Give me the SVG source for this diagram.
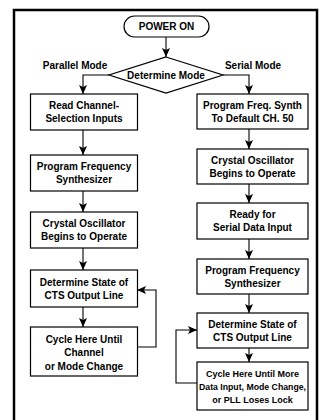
<svg xmlns="http://www.w3.org/2000/svg" width="324" height="420" viewBox="0 0 324 420">
<style>
.frame{fill:none;stroke:#000;stroke-width:2.5}
.box{fill:#fff;stroke:#000;stroke-width:1.2}
.t{font-family:"Liberation Sans",Arial,Helvetica,sans-serif;font-weight:bold;font-size:10px;fill:#000;text-anchor:middle}
.s{font-size:9px}
.c{fill:none;stroke:#000;stroke-width:1.1}
</style>
<defs>
<marker id="ah" viewBox="0 0 9 8" refX="9" refY="4" markerWidth="9" markerHeight="8" markerUnits="userSpaceOnUse" orient="auto">
<path d="M0,0 L9,4 L0,8 L2,4 Z" fill="#000"/>
</marker>
</defs>
<rect width="324" height="420" fill="#fff"/>
<rect class="frame" x="14" y="10" width="303" height="420"/>

<g id="connectors">
<path class="c" d="M166,37 V57" marker-end="url(#ah)"/>
<path class="c" d="M109,75 H83 V94" marker-end="url(#ah)"/>
<path class="c" d="M223,75 H249 V94" marker-end="url(#ah)"/>
<path class="c" d="M83,130 V155" marker-end="url(#ah)"/>
<path class="c" d="M83,191 V212" marker-end="url(#ah)"/>
<path class="c" d="M83,248 V270" marker-end="url(#ah)"/>
<path class="c" d="M83,307 V327" marker-end="url(#ah)"/>
<path class="c" d="M137,347 H156 V290 H137" marker-end="url(#ah)"/>
<path class="c" d="M249,129 V149" marker-end="url(#ah)"/>
<path class="c" d="M249,184 V203" marker-end="url(#ah)"/>
<path class="c" d="M249,239 V259" marker-end="url(#ah)"/>
<path class="c" d="M249,294 V313" marker-end="url(#ah)"/>
<path class="c" d="M249,348 V362" marker-end="url(#ah)"/>
<path class="c" d="M197,383 H176 V330 H197" marker-end="url(#ah)"/>
<text class="t" x="75" y="69">Parallel Mode</text>
<text class="t" x="253" y="69">Serial Mode</text>
</g>

<g id="power-on">
<rect class="box" x="124" y="16" width="85" height="21" rx="10.5"/>
<text class="t" x="166.5" y="30">POWER ON</text>
</g>

<g id="determine-mode">
<path class="box" d="M166,57 L223,75 L166,93 L109,75 Z"/>
<text class="t" x="166" y="78.5">Determine Mode</text>
</g>

<g id="p1">
<rect class="box" x="30.5" y="94" width="107" height="36"/>
<text class="t" x="84" y="109">Read Channel-</text>
<text class="t" x="84" y="122">Selection Inputs</text>
</g>
<g id="p2">
<rect class="box" x="30.5" y="155" width="107" height="36"/>
<text class="t" x="84" y="170">Program Frequency</text>
<text class="t" x="84" y="183">Synthesizer</text>
</g>
<g id="p3">
<rect class="box" x="30.5" y="212" width="107" height="36"/>
<text class="t" x="84" y="227">Crystal Oscillator</text>
<text class="t" x="84" y="240">Begins to Operate</text>
</g>
<g id="p4">
<rect class="box" x="30.5" y="270" width="107" height="37"/>
<text class="t" x="84" y="285.5">Determine State of</text>
<text class="t" x="84" y="298.5">CTS Output Line</text>
</g>
<g id="p5">
<rect class="box" x="30.5" y="327" width="107" height="49"/>
<text class="t" x="84" y="342.5">Cycle Here Until</text>
<text class="t" x="84" y="356">Channel</text>
<text class="t" x="84" y="369.5">or Mode Change</text>
</g>

<g id="s1">
<rect class="box" x="197" y="94" width="111" height="35"/>
<text class="t" x="252.5" y="108.5">Program Freq. Synth</text>
<text class="t" x="252.5" y="121.5">To Default CH. 50</text>
</g>
<g id="s2">
<rect class="box" x="197" y="149" width="111" height="35"/>
<text class="t" x="252.5" y="163.5">Crystal Oscillator</text>
<text class="t" x="252.5" y="176.5">Begins to Operate</text>
</g>
<g id="s3">
<rect class="box" x="197" y="203" width="111" height="36"/>
<text class="t" x="252.5" y="218">Ready for</text>
<text class="t" x="252.5" y="231">Serial Data Input</text>
</g>
<g id="s4">
<rect class="box" x="197" y="259" width="111" height="35"/>
<text class="t" x="252.5" y="273.5">Program Frequency</text>
<text class="t" x="252.5" y="286.5">Synthesizer</text>
</g>
<g id="s5">
<rect class="box" x="197" y="313" width="111" height="35"/>
<text class="t" x="252.5" y="327.5">Determine State of</text>
<text class="t" x="252.5" y="340.5">CTS Output Line</text>
</g>
<g id="s6">
<rect class="box" x="197" y="362" width="111" height="48"/>
<text class="t s" x="252.5" y="377">Cycle Here Until More</text>
<text class="t s" x="252.5" y="390" textLength="107" lengthAdjust="spacingAndGlyphs">Data Input, Mode Change,</text>
<text class="t s" x="252.5" y="403">or PLL Loses Lock</text>
</g>
</svg>
